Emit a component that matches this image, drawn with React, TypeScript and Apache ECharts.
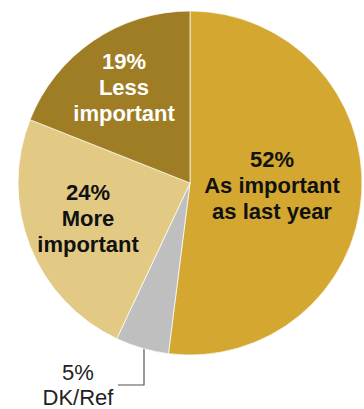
import React, { useEffect, useRef } from "react";
import * as echarts from "echarts";

const categories = ["As important\nas last year", "DK/Ref", "More\nimportant", "Less\nimportant"];
const values = [52, 5, 24, 19];
const colors = ["#D3A730", "#BFBFBF", "#E3CA84", "#9E7D24"];
const labelColors = ["#111", "#222", "#111", "#fff"];

export default function App() {
  const ref = useRef<HTMLDivElement>(null);
  useEffect(() => {
    const chart = echarts.init(ref.current!, null, { renderer: "svg" });
    const labelPos = [
      { x: 272, y: 185 },
      { x: 78, y: 385 },
      { x: 88, y: 218 },
      { x: 124, y: 87 },
    ];
    chart.setOption({
      animation: false,
      series: [
        {
          type: "pie",
          center: [190, 183],
          radius: 172,
          startAngle: 90,
          clockwise: true,
          avoidLabelOverlap: false,
          itemStyle: { borderColor: "#ffffff", borderWidth: 0.7 },
          label: {
            show: true,
            position: "inside",
            fontFamily: "Liberation Sans, Arial, sans-serif",
            fontSize: 22,
            fontWeight: "bold",
            lineHeight: 26,
            align: "center",
            formatter: (p: any) => `${p.value}%\n${p.name}`,
          },
          labelLine: { show: false },
          labelLayout: (p: any) => {
            const pos = labelPos[p.dataIndex];
            const out: any = { x: pos.x, y: pos.y, align: "center", verticalAlign: "middle" };
            if (p.dataIndex === 1) {
              out.labelLinePoints = [
                [144, 346],
                [144, 385],
                [118, 385],
              ];
            }
            return out;
          },
          data: values.map((v, i) => ({
            value: v,
            name: categories[i],
            itemStyle: { color: colors[i] },
            label:
              i === 1
                ? { position: "outside", fontWeight: "normal", fontSize: 22, lineHeight: 25, color: labelColors[i] }
                : { color: labelColors[i] },
            labelLine:
              i === 1
                ? { show: true, lineStyle: { color: "#555", width: 1.2 } }
                : { show: false },
          })),
        },
      ],
    });
    return () => chart.dispose();
  }, []);
  return (
    <div
      ref={ref}
      style={{ position: "fixed", left: 0, top: 0, width: 364, height: 409, background: "#fff" }}
    />
  );
}
